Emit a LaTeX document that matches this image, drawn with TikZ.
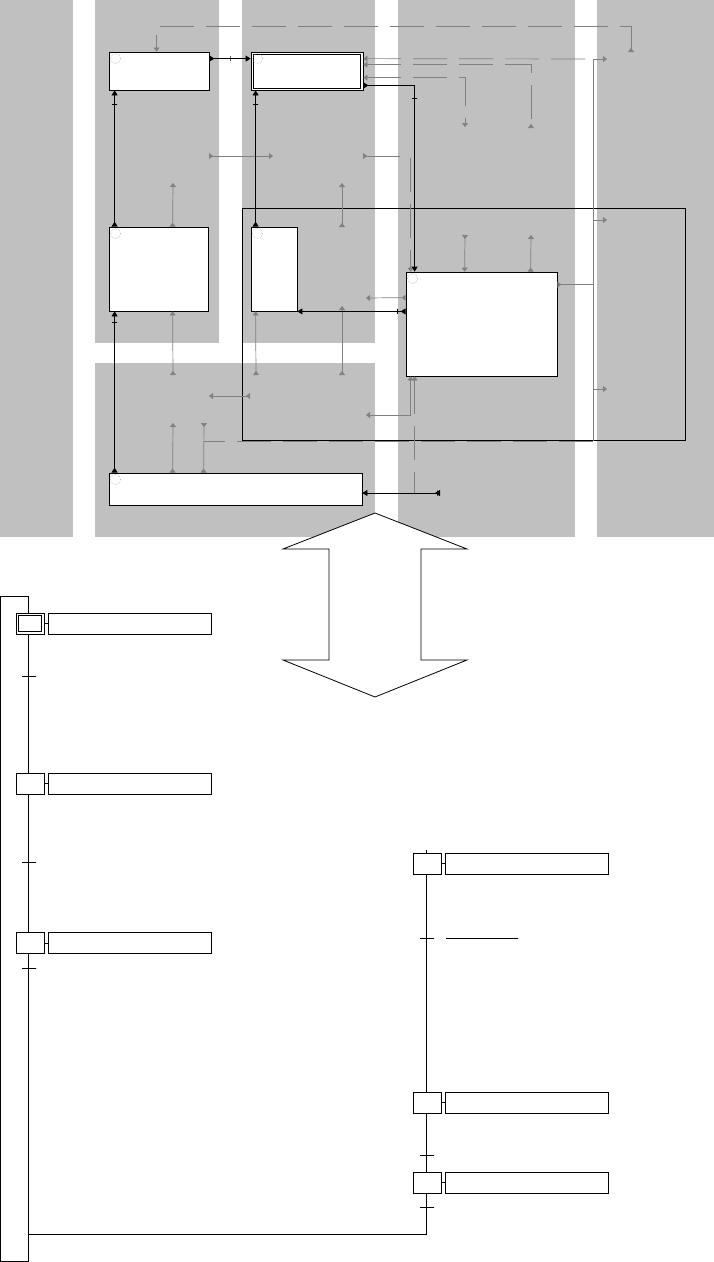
\documentclass[tikz,border=0pt]{standalone}
\usepackage{tikz}
\usetikzlibrary{arrows.meta}

\definecolor{laneC}{RGB}{192,192,192}
\definecolor{sigC}{RGB}{128,128,128}

\begin{document}
\begin{tikzpicture}[
    x=1pt, y=-1pt,
    bA/.tip={Triangle[length=5pt,width=6pt]},
    bR/.tip={Triangle[reversed,length=5pt,width=6pt]},
    gA/.tip={Triangle[length=4pt,width=6pt]},
    gR/.tip={Triangle[reversed,length=4pt,width=6pt]},
    lane/.style={fill=laneC},
    blk/.style={draw, fill=white, line width=.8pt, inner sep=0pt},
    frame/.style={draw, line width=.8pt, inner sep=0pt, minimum width=443pt, minimum height=232pt},
    pin/.style={draw=gray!70, line width=.5pt, densely dotted, circle, inner sep=0pt, minimum size=10pt},
    link/.style={draw, line width=.8pt, bR-bA},
    tk/.style={draw, sloped, line width=.6pt, inner sep=0pt, minimum width=0pt, minimum height=5pt},
    sig/.style={draw=sigC, line width=.7pt},
    sigd/.style={sig, dash pattern=on 34pt off 12pt},
    rail/.style={draw, line width=.8pt, inner sep=0pt, minimum width=28pt, minimum height=665pt},
    stepbox/.style={draw, fill=white, line width=.8pt, inner sep=0pt, minimum width=28pt, minimum height=21pt},
    actbox/.style={draw, fill=white, line width=.8pt, inner sep=0pt, minimum width=163pt, minimum height=21pt},
    trans/.style={draw, line width=.8pt, inner sep=0pt, minimum width=14pt, minimum height=0pt},
    flow/.style={draw, line width=.8pt}
]
\useasboundingbox (0,0) rectangle (714,1262);
% --- lanes ---
\fill[lane] (0,0) rectangle (73,537);
\fill[lane] (95,0) rectangle (219,343);
\fill[lane] (242,0) rectangle (375,343);
\fill[lane] (95,363) rectangle (375,537);
\fill[lane] (398,0) rectangle (575,537);
\fill[lane] (597,0) rectangle (714,537);
\node[frame] (zone) at (463.5,324) {};
% --- free ends ---
\coordinate (g1) at (631,52);
\coordinate (busT) at (593,59);
\coordinate (busB) at (593,441);
\coordinate (o1) at (607,59);
\coordinate (o2) at (607,220);
\coordinate (o3) at (607,389);
\coordinate (fTap) at (204,441);
\coordinate (fTop) at (204,423);
\coordinate (fEnd) at (440,493);
\coordinate (q1) at (531,128);
\coordinate (q2) at (465,127);
\coordinate (h1) at (209,156);
\coordinate (h2) at (273,156);
\coordinate (h3) at (363,156);
\coordinate (u1) at (173,183);
\coordinate (u2) at (342,227);
\coordinate (u3) at (342,183);
\coordinate (u4) at (465,235);
\coordinate (u5) at (531,235);
\coordinate (u6) at (366,298);
\coordinate (u7) at (173,375);
\coordinate (u8) at (256,375);
\coordinate (u9) at (342,375);
\coordinate (u10) at (342,306);
\coordinate (u11) at (250,396);
\coordinate (u12) at (209,396);
\coordinate (u13) at (173,423);
\coordinate (u14) at (366,415);
% --- blocks ---
\node[blk, minimum width=100pt, minimum height=38pt] (blkA) at (159,71) {};
\node[blk, minimum width=112pt, minimum height=38pt] (blkB) at (307,71) {};
\node[blk, minimum width=99pt, minimum height=84pt] (blkC) at (158.5,269) {};
\node[blk, minimum width=46pt, minimum height=84pt] (blkD) at (274,269) {};
\node[blk, minimum width=151pt, minimum height=104pt] (blkE) at (481.5,324) {};
\node[blk, minimum width=253pt, minimum height=32pt] (blkF) at (235.5,489) {};
\node[draw, line width=.8pt, inner sep=0pt, minimum width=107pt, minimum height=34pt] (blkBi) at (blkB) {};
\foreach \b in {blkA,blkB,blkC,blkD,blkE,blkF}
  \node[pin] (\b-o) at ([shift={(7pt,-7pt)}]\b.north west) {};
% --- gray signals ---
\draw[sigd, gR-gA] (g1) -- ++(0,-26) -| ([xshift=48pt]blkA.north west);
\draw[sigd, gA-] ([yshift=-7pt]blkB.north east) -- (busT);
\draw[sigd, gA-gR] ([yshift=-13pt]blkB.north east) -| (q1);
\draw[sigd, gA-gA] ([yshift=-26pt]blkB.north east) -| (q2);
\draw[sig] (busT) -- (busB);
\draw[sig, -gA] (busT) -- (o1);
\draw[sig, -gA] (busT |- o2) -- (o2);
\draw[sig, -gA] (busT |- o3) -- (o3);
\draw[sig, gR-] ([yshift=-13pt]blkE.north east) -- ([yshift=-13pt]blkE.north east -| busT);
\draw[sigd] (busB) -- (fTap);
\draw[sig, gR-gR] ([xshift=95pt]blkF.north west) -- (fTop);
\draw[sig, gR-gA] (h1) -- (h2);
\draw[sigd, gR-gA] (h3) -| ([xshift=5pt]blkE.north west);
\draw[sig, gR-gA] ([xshift=64pt]blkC.north west) -- (u1);
\draw[sig, gR-gA] (u2) -- (u3);
\draw[sig, gR-gA] (u4) -- ([xshift=59pt]blkE.north west);
\draw[sig, gR-gA] ([xshift=125pt]blkE.north west) -- (u5);
\draw[sig, gR-gA] ([yshift=-26pt]blkE.north west) -- (u6);
\draw[sig, gR-gA] (u7) -- ([xshift=64pt]blkC.south west);
\draw[sig, gR-gA] (u8) -- ([xshift=5pt]blkD.south west);
\draw[sig, gR-gA] (u9) -- (u10);
\draw[sig, gR-gA] (u11) -- (u12);
\draw[sig, gR-gA] ([xshift=64pt]blkF.north west) -- (u13);
\draw[sig, gA-gA] ([xshift=5pt]blkE.south west) |- (u14);
\draw[sigd, gA-] ([xshift=9pt]blkE.south west) -- ([xshift=9pt]blkE.south west |- fEnd);
% --- black links ---
\draw[link] ([yshift=-7pt]blkA.north east) -- node[tk] (k1) {} ([yshift=-7pt]blkB.north west);
\draw[link] ([xshift=6pt]blkC.north west) -- node[tk, pos=.9] (k2) {} ([xshift=6pt]blkA.south west);
\draw[link] ([xshift=5pt]blkD.north west) -- node[tk, pos=.9] (k3) {} ([xshift=5pt]blkB.south west);
\draw[link] ([xshift=6pt]blkF.north west) -- node[tk, pos=.93] (k4) {} ([xshift=6pt]blkC.south west);
\draw[link] ([yshift=5pt]blkB.south east) -| node[tk, pos=.535] (k5) {} ([xshift=9pt]blkE.north west);
\draw[link] (blkE.west |- blkD.south east) -- node[tk, pos=.08] (k6) {} (blkD.south east);
\draw[link] (fEnd) -- node[tk, pos=.04] (k7) {} (blkF.east |- fEnd);
% --- double arrow ---
\draw[line width=.8pt, fill=white] (375,513) -- (467,549) -- (421,549) -- (421,660) -- (467,660)
  -- (375,697) -- (283,660) -- (329,660) -- (329,549) -- (283,549) -- cycle;
% --- grafcet ---
\node[rail] (rail) at (14,928.5) {};
\coordinate (rTop) at (426,850);
\coordinate (rBot) at (426,1234);
\draw[flow] (rTop) -- (rBot) -- (rail.east |- rBot);
% left branch
\node[stepbox] (s1) at (30,623.5) {};
\node[draw, line width=.8pt, inner sep=0pt, minimum width=23pt, minimum height=16pt] (s1i) at (s1) {};
\node[actbox] (a1) at (129.5,623.5) {};
\node[trans] (t1) at (29,676) {};
\node[stepbox] (s2) at (30,783.5) {};
\node[actbox] (a2) at (129.5,783.5) {};
\node[trans] (t2) at (29,862) {};
\node[stepbox] (s3) at (30,943) {};
\node[actbox] (a3) at (129.5,943) {};
\node[trans] (t3) at (29,968) {};
% right branch
\node[stepbox] (s4) at (427.5,863.5) {};
\node[actbox] (a4) at (526.5,863.5) {};
\node[trans] (t4) at (427,938) {};
\node[trans, minimum width=72pt] (ovl) at (482,938) {};
\node[stepbox] (s5) at (427.5,1102.5) {};
\node[actbox] (a5) at (526.5,1102.5) {};
\node[trans] (t5) at (427,1155) {};
\node[stepbox] (s6) at (427.5,1182.5) {};
\node[actbox] (a6) at (526.5,1182.5) {};
\node[trans] (t6) at (427,1207) {};
\foreach \i in {1,...,6}
  \draw[flow] (s\i) -- (a\i);
\end{tikzpicture}
\end{document}
